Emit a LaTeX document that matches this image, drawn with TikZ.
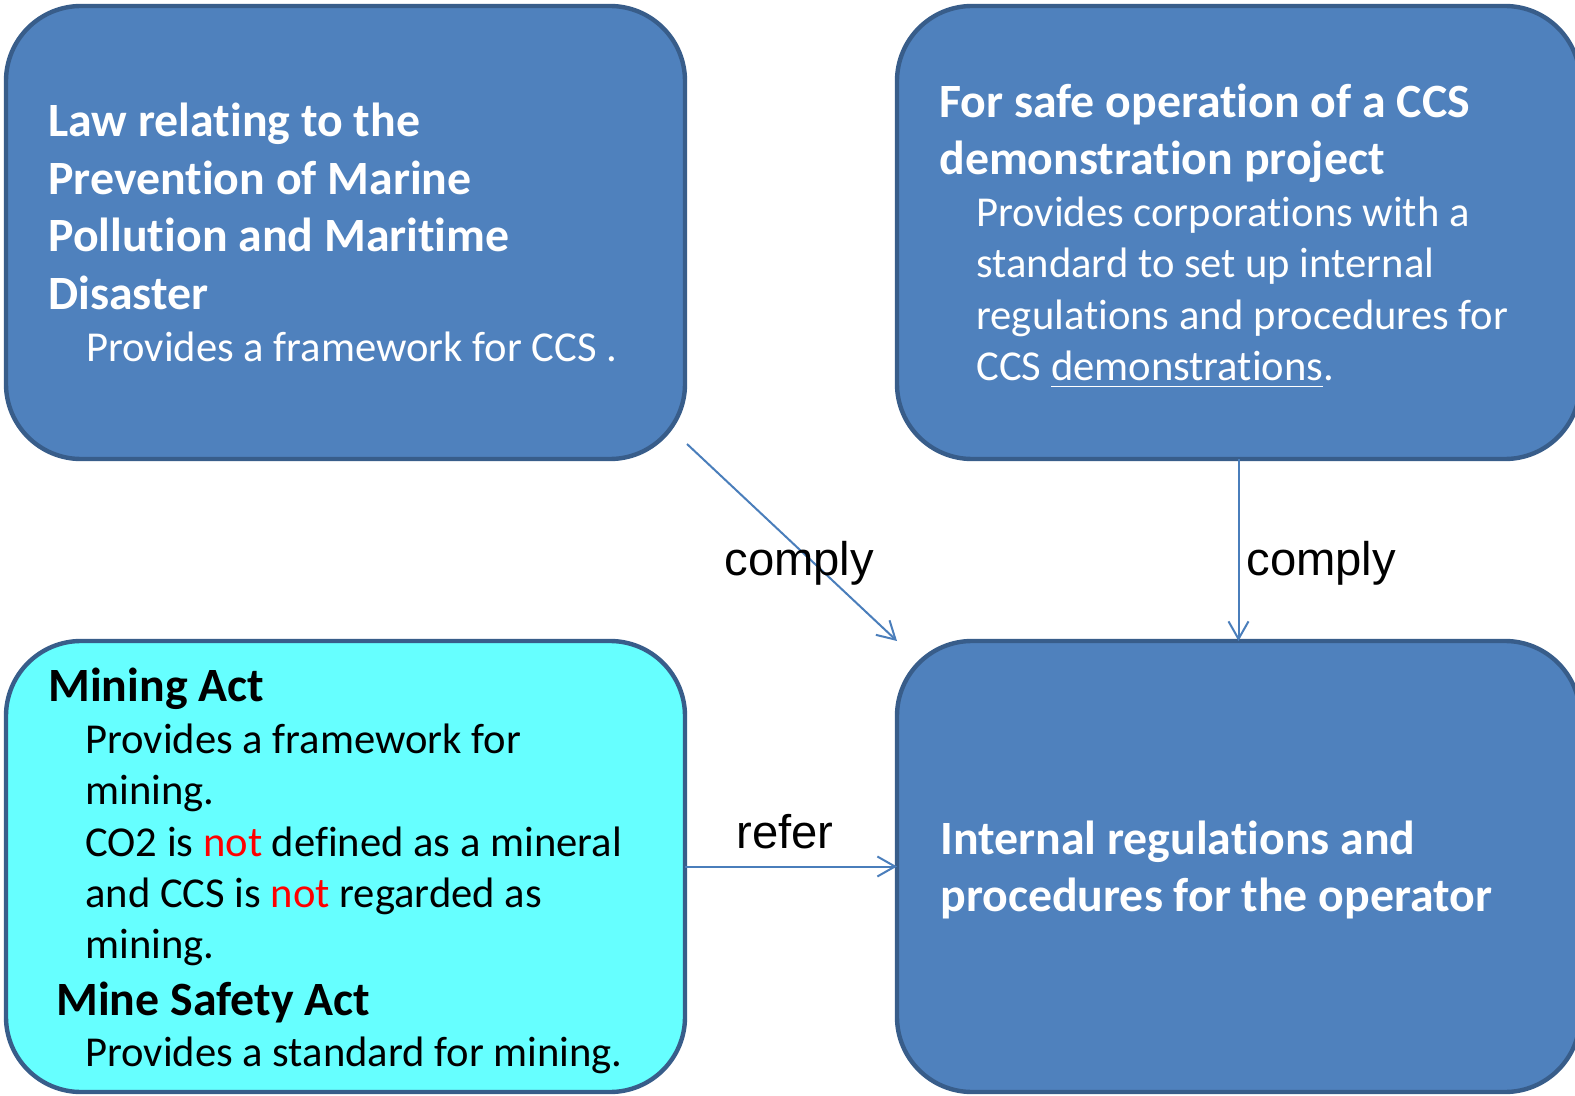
\documentclass[tikz,border=0pt]{standalone}
\usepackage{fontspec}
\setmainfont[Ligatures=NoCommon]{Carlito}
\newfontfamily\arialf{Liberation Sans}
\usetikzlibrary{arrows.meta}
\definecolor{boxblue}{HTML}{4F81BD}
\definecolor{boxedge}{HTML}{385D8A}
\definecolor{boxcyan}{HTML}{66FFFF}
\definecolor{arrowblue}{HTML}{4A7EBB}
\definecolor{notred}{HTML}{FF0000}
\newcommand\myul[1]{\setbox0\hbox{#1}\rlap{\rule[-3.2pt]{\wd0}{0.8pt}}\box0}
\newcommand\xti{t\kern0pt i}
\newcommand\xfi{f\kern0pt i}
\tikzset{
  panel/.style={draw=boxedge, line width=2.2pt, rounded corners=37.5pt, rectangle, inner sep=0pt, outer sep=0pt},
  bluepanel/.style={panel, fill=boxblue},
  cyanpanel/.style={panel, fill=boxcyan},
  head/.style={anchor=base west, inner sep=0pt, font=\fontsize{23.9}{28.7}\selectfont\bfseries},
  body/.style={anchor=base west, inner sep=0pt, font=\fontsize{21.3}{25.5}\selectfont},
  lbl/.style={anchor=base west, inner sep=0pt, font=\arialf\fontsize{23.6}{28}\selectfont},
  arr/.style={draw=arrowblue, line width=1pt, -{Straight Barb[length=8.8pt,width=10pt,line width=1pt]}}
}
\begin{document}
\begin{tikzpicture}[x=0.5pt,y=-0.5pt]
\clip (0,0) rectangle (1575,1096);
\fill[white] (0,0) rectangle (1575,1096);
% boxes
\node[bluepanel, minimum width=339.5pt, minimum height=226.5pt] (tl) at (345.5,232.5) {};
\node[bluepanel, minimum width=341.5pt, minimum height=226.5pt] (tr) at (1238.5,232.5) {};
\node[cyanpanel, minimum width=339.5pt, minimum height=225.5pt] (bl) at (345.5,866.5) {};
\node[bluepanel, minimum width=341.5pt, minimum height=225.5pt] (br) at (1238.5,866.5) {};
% top-left text
\begin{scope}[text=white]
\node[head] (tl1) at (48,136.7) {Law rela\xti ng to the};
\node[head] (tl2) at (48,194.3) {Preven\xti on of Marine};
\node[head] (tl3) at (48,251.9) {Pollu\xti on and Mari\xti me};
\node[head] (tl4) at (48,309.5) {Disaster};
\node[body] (tl5) at (86,361.7) {Provides a framework for CCS .};
% top-right text
\node[head] (tr1) at (939,117.7) {For safe opera\xti on of a CCS};
\node[head] (tr2) at (939,174.5) {demonstra\xti on project};
\node[body] (tr3) at (976,226.7) {Provides corpora\xti ons with a};
\node[body] (tr4) at (976,278.0) {standard to set up internal};
\node[body] (tr5) at (976,329.5) {regula\xti ons and procedures for};
\node[body] (tr6) at (976,381.0) {CCS \myul{demonstra\xti ons}.};
% bottom-right text
\node[head] (br1) at (940,854.3) {Internal regula\xti ons and};
\node[head] (br2) at (940,911.9) {procedures for the operator};
\end{scope}
% bottom-left text
\node[head] (bl1) at (48,701.7) {Mining Act};
\node[body] (bl2) at (85,753.3) {Provides a framework for};
\node[body] (bl3) at (85,804.6) {mining.};
\node[body] (bl4) at (85,856.2) {CO2 is \textcolor{notred}{not} de\xfi ned as a mineral};
\node[body] (bl5) at (85,907.7) {and CCS is \textcolor{notred}{not} regarded as};
\node[body] (bl6) at (85,958.6) {mining.};
\node[head] (bl7) at (56,1015) {Mine Safety Act};
\node[body] (bl8) at (85,1066.7) {Provides a standard for mining.};
% connectors
\draw[arr] ([xshift=1pt,yshift=7.5pt]tl.south east) -- (br.north west);
\draw[arr] (tr.south) -- (br.north);
\draw[arr] (bl.east) -- (br.west);
% labels
\node[lbl] (c1) at (724,575) {comply};
\node[lbl] (c2) at (1246,575) {comply};
\node[lbl] (r1) at (736,848) {refer};
\end{tikzpicture}
\end{document}
